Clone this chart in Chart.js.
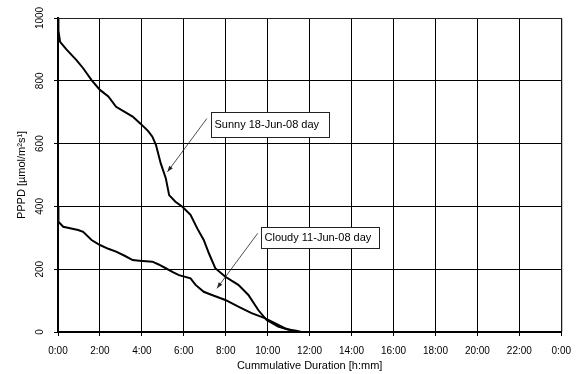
<!DOCTYPE html>
<html>
<head>
<meta charset="utf-8">
<script src="https://cdn.jsdelivr.net/npm/chart.js@4/dist/chart.umd.min.js"></script>
<style>
  html, body { margin: 0; padding: 0; background: #fff; }
</style>
</head>
<body>
<canvas id="chart" width="580" height="374"></canvas>
<script>
// cumulative duration (hours) vs PPFD
const sunnyHours = [0, 0.02, 0.1, 0.4, 0.88, 1.2, 1.6, 2, 2.4, 2.77, 3.2, 3.56, 3.96, 4.3, 4.5, 4.67, 4.9, 5.14, 5.3, 5.6, 5.93, 6.32, 6.64, 6.95, 7.2, 7.5, 7.98, 8.6, 9.08, 9.55, 9.95, 10.5, 10.97, 11.36, 11.6, 24];
const sunnyValues = [1000, 960, 924, 900, 866, 840, 802, 771, 750, 717, 700, 686, 662, 640, 622, 596, 537, 490, 436, 415, 399, 373, 330, 293, 250, 203, 176, 150, 118, 70, 38, 17, 8, 4, 0, 0];

const cloudyHours = [0, 0.02, 0.25, 0.96, 1.2, 1.6, 2, 2.4, 2.77, 3.2, 3.56, 3.88, 4.5, 4.8, 5.14, 5.5, 5.77, 6.32, 6.56, 6.95, 7.34, 7.98, 8.6, 9.23, 9.86, 10.34, 10.81, 11.2, 11.5, 24];
const cloudyValues = [400, 351, 335, 325, 319, 293, 277, 265, 256, 242, 229, 227, 224, 215, 203, 190, 181, 171, 150, 128, 118, 102, 81, 60, 44, 28, 12, 4, 0, 0];

const xTicksHours = [0, 2, 4, 6, 8, 10, 12, 14, 16, 18, 20, 22, 24];
const yTicks = [0, 200, 400, 600, 800, 1000];

// callout boxes: text, box corners and arrow in data units
const callouts = [
  { text: 'Sunny 18-Jun-08 day', box: [7.3, 702, 12.9, 622], from: [7.1, 680], to: [5.22, 510] },
  { text: 'Cloudy 11-Jun-08 day', box: [9.7, 335, 15.33, 266], from: [9.52, 314], to: [7.58, 139] }
];

const FONT = '"Liberation Sans", Arial, sans-serif';

function toPoints(xs, ys) {
  return xs.map((x, i) => ({ x: x, y: ys[i] }));
}

const framePlugin = {
  id: 'frame',
  afterDraw(chart) {
    const { ctx, chartArea: a } = chart;
    ctx.save();
    ctx.strokeStyle = '#222';
    ctx.lineWidth = 1;
    ctx.beginPath();
    ctx.moveTo(a.left, a.top + 0.5);
    ctx.lineTo(a.right + 0.5, a.top + 0.5);
    ctx.lineTo(a.right + 0.5, a.bottom);
    ctx.stroke();
    ctx.restore();
  }
};

const calloutPlugin = {
  id: 'callouts',
  afterDraw(chart) {
    const { ctx } = chart;
    const xs = chart.scales.x, ys = chart.scales.y;
    ctx.save();
    callouts.forEach(c => {
      const x1 = xs.getPixelForValue(c.from[0]), y1 = ys.getPixelForValue(c.from[1]);
      const x2 = xs.getPixelForValue(c.to[0]), y2 = ys.getPixelForValue(c.to[1]);
      ctx.strokeStyle = '#222';
      ctx.lineWidth = 0.8;
      ctx.beginPath();
      ctx.moveTo(x1, y1);
      ctx.lineTo(x2, y2);
      ctx.stroke();
      // arrow head
      const ang = Math.atan2(y2 - y1, x2 - x1);
      const len = 6, w = 2.2;
      ctx.fillStyle = '#222';
      ctx.beginPath();
      ctx.moveTo(x2, y2);
      ctx.lineTo(x2 - len * Math.cos(ang) + w * Math.sin(ang), y2 - len * Math.sin(ang) - w * Math.cos(ang));
      ctx.lineTo(x2 - len * Math.cos(ang) - w * Math.sin(ang), y2 - len * Math.sin(ang) + w * Math.cos(ang));
      ctx.closePath();
      ctx.fill();

      const bx1 = Math.round(xs.getPixelForValue(c.box[0])) + 0.5;
      const by1 = Math.round(ys.getPixelForValue(c.box[1])) + 0.5;
      const bx2 = Math.round(xs.getPixelForValue(c.box[2])) + 0.5;
      const by2 = Math.round(ys.getPixelForValue(c.box[3])) + 0.5;
      ctx.fillStyle = '#fff';
      ctx.fillRect(bx1, by1, bx2 - bx1, by2 - by1);
      ctx.lineWidth = 1;
      ctx.strokeRect(bx1, by1, bx2 - bx1, by2 - by1);
      ctx.fillStyle = '#000';
      ctx.font = '11px ' + FONT;
      ctx.textBaseline = 'middle';
      ctx.textAlign = 'left';
      ctx.fillText(c.text, bx1 + 3, (by1 + by2) / 2);
    });
    ctx.restore();
  }
};

new Chart(document.getElementById('chart'), {
  type: 'line',
  data: {
    datasets: [
      { label: 'Sunny 18-Jun-08 day', data: toPoints(sunnyHours, sunnyValues) },
      { label: 'Cloudy 11-Jun-08 day', data: toPoints(cloudyHours, cloudyValues) }
    ]
  },
  options: {
    responsive: false,
    animation: false,
    layout: { padding: { top: 18, right: 15, left: 0, bottom: 0 } },
    elements: {
      line: { borderColor: '#000', borderWidth: 2, tension: 0, fill: false },
      point: { radius: 0 }
    },
    plugins: {
      legend: { display: false },
      tooltip: { enabled: false }
    },
    scales: {
      x: {
        type: 'linear',
        min: 0,
        max: 24,
        afterBuildTicks: s => { s.ticks = xTicksHours.map(v => ({ value: v })); },
        afterFit: s => { s.height = 42; },
        ticks: {
          color: '#000',
          font: { family: FONT, size: 10 },
          padding: 9,
          maxRotation: 0,
          callback: v => (v % 24) + ':00'
        },
        grid: { color: '#000', lineWidth: 1, tickLength: 4, tickColor: '#000' },
        border: { color: '#000', width: 2 },
        title: {
          display: true,
          text: 'Cummulative Duration [h:mm]',
          color: '#000',
          font: { family: FONT, size: 11 },
          padding: { top: 0, bottom: 1 }
        }
      },
      y: {
        min: 0,
        max: 1000,
        afterBuildTicks: s => { s.ticks = yTicks.map(v => ({ value: v })); },
        afterFit: s => { s.width = 58; },
        ticks: {
          color: '#000',
          font: { family: FONT, size: 10 },
          padding: 3,
          minRotation: 90,
          maxRotation: 90,
          crossAlign: 'center',
          callback: v => String(v)
        },
        grid: { color: '#000', lineWidth: 1, tickLength: 4, tickColor: '#000' },
        border: { color: '#000', width: 2 },
        title: {
          display: true,
          text: 'PPPD [µmol/m²s¹]',
          color: '#000',
          font: { family: FONT, size: 11 },
          padding: { top: 15, bottom: 0 }
        }
      }
    }
  },
  plugins: [framePlugin, calloutPlugin]
});
</script>
</body>
</html>
